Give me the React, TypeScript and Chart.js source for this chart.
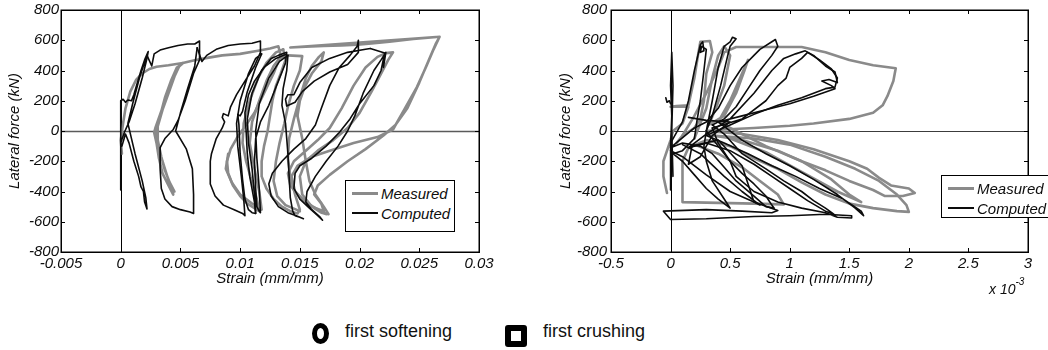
import React, { useEffect, useRef } from 'react';
import { Chart, registerables } from 'chart.js';
Chart.register(...registerables);

type Pt = [number, number];

// ---------------- axis ticks ----------------
const leftXTickValues = [-0.005, 0, 0.005, 0.01, 0.015, 0.02, 0.025, 0.03];
const leftXTickLabels = ['-0.005', '0', '0.005', '0.01', '0.015', '0.02', '0.025', '0.03'];
const rightXTickValues = [-0.5, 0, 0.5, 1, 1.5, 2, 2.5, 3];
const rightXTickLabels = ['-0.5', '0', '0.5', '1', '1.5', '2', '2.5', '3'];
const yTickValues = [-800, -600, -400, -200, 0, 200, 400, 600, 800];
const yTickLabels = ['-800', '-600', '-400', '-200', '0', '200', '400', '600', '800'];

// ---------------- left panel: computed (black) ----------------
const leftComputedA: Pt[] = [
  [0, -390], [0, 200], [0.0002, 210], [0.0004, 190], [0.0006, 205], [0.0009, 200], [0.0011, 240],
  [0.0014, 320], [0.0017, 400], [0.002, 470], [0.0023, 525], [0.0022, 480], [0.0018, 350], [0.0012, 180],
  [0.0007, 60], [0.0003, -10], [0, -80], [0.0001, -100], [0.0004, -20], [0.0007, -80], [0.0011, -200],
  [0.0015, -300], [0.0017, -370], [0.0019, -400], [0.002, -470], [0.0022, -515], [0.0021, -440],
  [0.0018, -330], [0.0012, -150], [0.0006, 50], [0.001, 180], [0.0016, 360], [0.0022, 500],
];
const leftComputedB: Pt[] = [
  [0.0022, 500], [0.0026, 430], [0.0028, 510], [0.0033, 535], [0.004, 550], [0.0048, 565], [0.0056, 575],
  [0.0062, 575], [0.0066, 595], [0.0066, 470], [0.0061, 380], [0.0054, 200], [0.0048, 70], [0.0044, 10],
  [0.0037, -50], [0.0033, -110], [0.0033, -250], [0.0034, -380], [0.0037, -450], [0.0043, -500],
  [0.005, -520], [0.0058, -535], [0.0061, -545], [0.0061, -420], [0.006, -250], [0.0055, -120],
  [0.0046, 0], [0.005, 120], [0.0056, 280], [0.0062, 430], [0.0064, 550],
];
const leftComputedC: Pt[] = [
  [0.0064, 550], [0.0068, 460], [0.0072, 500], [0.008, 540], [0.009, 565], [0.01, 575], [0.011, 580],
  [0.0117, 595], [0.0117, 520], [0.0112, 430], [0.0104, 330], [0.0097, 240], [0.0092, 160], [0.009, 100],
  [0.0086, 115], [0.0085, 90], [0.0087, 60], [0.0085, 20], [0.008, -50], [0.0076, -150], [0.0075, -200],
  [0.0075, -350], [0.0079, -430], [0.0086, -490], [0.0095, -520], [0.0102, -545], [0.0104, -560],
  [0.0103, -450], [0.0101, -300], [0.0098, -100], [0.0097, 50], [0.01, 200], [0.0107, 380],
  [0.0113, 480], [0.0118, 510],
];
const leftComputedD: Pt[] = [
  [0.0118, 510], [0.0113, 420], [0.0106, 260], [0.0102, 130], [0.01, 100], [0.0098, 110], [0.0099, 40],
  [0.01, -150], [0.0102, -320], [0.0104, -450], [0.0107, -520], [0.011, -540], [0.0113, -545],
  [0.0112, -420], [0.011, -250], [0.0107, -80], [0.0106, 80], [0.011, 250], [0.0118, 400], [0.0126, 480],
  [0.0132, 500], [0.0139, 520], [0.0138, 450], [0.0132, 330], [0.0124, 170], [0.0117, 60], [0.0113, -50],
  [0.0112, -200], [0.0113, -380], [0.0114, -500], [0.0116, -530], [0.0117, -540], [0.0116, -380],
  [0.0114, -180], [0.0113, 0], [0.0116, 180], [0.0124, 350], [0.0133, 460], [0.014, 500],
];
const leftComputedE: Pt[] = [
  [0.014, 500], [0.0139, 400], [0.0136, 280], [0.0135, 170], [0.0138, 50], [0.014, -150], [0.0141, -300],
  [0.0142, -440], [0.0144, -530], [0.0146, -560], [0.015, -570], [0.0153, -580], [0.0147, -560],
  [0.014, -540], [0.0132, -500], [0.0126, -430], [0.0124, -350], [0.0127, -280], [0.0135, -200],
  [0.0145, -120], [0.0155, -50], [0.0163, 40], [0.0168, 150], [0.0175, 300], [0.0183, 420], [0.0192, 500],
  [0.0198, 560], [0.0199, 600], [0.0199, 520], [0.019, 440], [0.0175, 390], [0.0162, 330], [0.0152, 260],
  [0.0146, 190], [0.0139, 165], [0.0138, 210], [0.014, 240], [0.0145, 240], [0.015, 320], [0.016, 420],
  [0.0175, 480], [0.019, 520], [0.0205, 540], [0.0209, 545],
];
const leftComputedF: Pt[] = [
  [0.0209, 545], [0.0215, 530], [0.0221, 515], [0.0218, 400], [0.0212, 300], [0.02, 180], [0.0192, 80],
  [0.0183, -10], [0.0172, -100], [0.016, -180], [0.015, -230], [0.0146, -280], [0.0145, -380],
  [0.015, -450], [0.0158, -510], [0.0165, -560], [0.0169, -590], [0.0167, -570], [0.016, -520],
  [0.0155, -470], [0.0156, -400], [0.0163, -300], [0.0172, -200], [0.0182, -100], [0.019, 0],
  [0.0196, 100], [0.0203, 250], [0.0212, 400], [0.0218, 470], [0.0222, 520], [0.022, 420],
];
const leftComputedG: Pt[] = [
  [0.0113, -545], [0.0112, -470], [0.0108, -300], [0.0106, -150], [0.0105, 0], [0.0104, 120],
  [0.0107, 240], [0.0112, 330], [0.012, 420], [0.013, 480], [0.0138, 505],
];

// ---------------- left panel: measured (gray) ----------------
const leftMeasuredA: Pt[] = [
  [0.0001, -150], [0, -60], [0.0002, 50], [0.0004, 150], [0.0008, 260], [0.0013, 340], [0.0018, 380],
  [0.0024, 410], [0.003, 425], [0.004, 435], [0.0048, 445], [0.0052, 450], [0.0048, 420], [0.0043, 330],
  [0.0038, 220], [0.0033, 110], [0.0029, 20], [0.0028, -10], [0.003, -80], [0.0032, -180], [0.0035, -280],
  [0.004, -360], [0.0044, -420], [0.0043, -380], [0.0039, -300], [0.0035, -200], [0.0031, -90], [0.003, 0],
  [0.0033, 100], [0.0037, 220], [0.0042, 330], [0.0047, 420], [0.0051, 440], [0.005, 445], [0.0045, 360],
  [0.004, 250], [0.0035, 140], [0.0031, 30], [0.0031, -60], [0.0034, -170], [0.0037, -260], [0.0041, -340],
  [0.0045, -400],
];
const leftMeasuredB: Pt[] = [
  [0.0052, 450], [0.006, 465], [0.007, 480], [0.0085, 500], [0.01, 510], [0.0115, 530], [0.0125, 545],
  [0.0132, 560], [0.0134, 500], [0.0128, 380], [0.012, 250], [0.0112, 120], [0.0104, 30], [0.0097, -50],
  [0.0092, -120], [0.0089, -200], [0.009, -280], [0.0094, -360], [0.01, -430], [0.0106, -480],
  [0.0112, -510], [0.0116, -530], [0.0114, -450], [0.011, -340], [0.0105, -200], [0.0102, -80],
  [0.0103, 50], [0.0108, 200], [0.0115, 350], [0.0122, 450], [0.013, 520], [0.0136, 540],
];
const leftMeasuredC: Pt[] = [
  [0.0136, 540], [0.0138, 470], [0.0134, 380], [0.013, 300], [0.0127, 200], [0.0125, 100], [0.0123, 0],
  [0.012, -100], [0.0118, -200], [0.0118, -300], [0.0122, -380], [0.0128, -450], [0.0135, -500],
  [0.0142, -530], [0.0148, -545], [0.015, -520], [0.0146, -420], [0.0142, -300], [0.014, -180],
  [0.0141, -50], [0.0145, 80], [0.015, 220], [0.0155, 350], [0.016, 430], [0.0166, 490], [0.017, 520],
  [0.0168, 460], [0.016, 380], [0.0154, 290], [0.015, 200], [0.0148, 100],
];
const leftMeasuredD: Pt[] = [
  [0.0148, 100], [0.0152, -50], [0.0155, -200], [0.0158, -330], [0.0163, -420], [0.017, -500],
  [0.0174, -550], [0.0168, -540], [0.016, -500], [0.015, -440], [0.0142, -360], [0.014, -280],
  [0.0145, -200], [0.0155, -130], [0.0165, -60], [0.0175, 20], [0.0185, 150], [0.0195, 300],
  [0.0205, 420], [0.0215, 490], [0.0222, 515], [0.0228, 520], [0.0224, 470], [0.0218, 380], [0.021, 260],
  [0.02, 120], [0.019, 20], [0.0178, -60], [0.0165, -130], [0.0155, -200], [0.015, -300], [0.0152, -420],
  [0.016, -500], [0.017, -530],
];
const leftMeasuredE: Pt[] = [
  [0.017, -530], [0.0168, -480], [0.0162, -420], [0.0165, -360], [0.0175, -290], [0.019, -200],
  [0.0205, -120], [0.022, -30], [0.023, 40], [0.024, 150], [0.025, 320], [0.0258, 470], [0.0264, 580],
  [0.0267, 623], [0.0245, 608], [0.0225, 590], [0.021, 578], [0.0198, 570], [0.0185, 565], [0.017, 562],
  [0.0155, 558], [0.0142, 552], [0.0267, 623], [0.0262, 540], [0.0256, 430], [0.0248, 290], [0.0238, 150],
  [0.0228, 10], [0.0215, -40], [0.0195, -80], [0.0175, -130], [0.016, -170], [0.0148, -230], [0.0143, -300],
  [0.0146, -400], [0.0155, -470], [0.0165, -520], [0.0172, -550],
];
const leftMeasuredF: Pt[] = [
  [0.009, -150], [0.0088, -250], [0.0093, -340], [0.01, -420], [0.011, -480], [0.0118, -520],
  [0.0116, -400], [0.0112, -250], [0.0108, -80], [0.011, 60], [0.0116, 200], [0.0122, 330], [0.0128, 430],
  [0.0133, 480], [0.014, 500], [0.0152, 495], [0.015, 400], [0.0145, 300], [0.014, 160], [0.0137, 50],
  [0.0133, -80], [0.013, -200], [0.0128, -330], [0.0131, -430], [0.0138, -490], [0.015, -530],
];

// ---------------- right panel (strain x 10^-3): computed (black) ----------------
const rightComputedSpike: Pt[] = [
  [0, -390], [0, -100], [0.01, 100], [0, 300], [0.01, 520], [0.02, 300], [0.01, 0], [0.02, -300],
];
const rightComputedFlag: Pt[] = [[-0.04, 220], [-0.03, 190], [-0.01, 200], [0, 180]];
const rightComputedA: Pt[] = [
  [0, -80], [0.1, 60], [0.15, 200], [0.2, 400], [0.25, 570], [0.27, 590], [0.28, 530], [0.25, 520],
  [0.26, 560], [0.3, 540], [0.28, 400], [0.25, 200], [0.22, 60], [0.2, -50], [0.1, -130], [0.02, -150],
  [0.1, -200], [0.2, -290], [0.3, -380], [0.4, -450], [0.5, -510], [0.45, -450], [0.35, -330], [0.3, -200],
  [0.28, -100], [0.3, 0], [0.35, 200], [0.4, 420], [0.45, 560], [0.5, 590], [0.52, 620], [0.55, 610],
  [0.5, 560], [0.48, 500], [0.42, 300], [0.35, 100], [0.3, 0],
];
const rightComputedB: Pt[] = [
  [0.3, 0], [0.4, -100], [0.5, -200], [0.6, -280], [0.7, -350], [0.8, -430], [0.85, -490], [0.87, -510],
  [0.8, -500], [0.7, -430], [0.55, -330], [0.45, -240], [0.35, -150], [0.25, -100], [0.1, -80], [0, -110],
  [0.2, 20], [0.3, 60], [0.4, 150], [0.5, 300], [0.6, 420], [0.7, 500], [0.75, 540], [0.85, 590],
  [0.88, 605], [0.9, 560], [0.85, 500], [0.75, 400], [0.65, 280], [0.55, 160], [0.45, 80], [0.35, 40],
];
const rightComputedC: Pt[] = [
  [0.35, 40], [0.45, -20], [0.6, -150], [0.8, -250], [0.95, -330], [1.1, -400], [1.2, -460], [1.3, -510],
  [1.37, -550], [1.3, -530], [1.15, -460], [1, -380], [0.85, -300], [0.7, -220], [0.5, -130], [0.3, -80],
  [0.15, -110], [0.3, -20], [0.5, 80], [0.7, 250], [0.85, 400], [0.95, 480], [1.05, 510], [1.13, 530],
  [1.2, 500], [1.3, 430], [1.38, 390], [1.4, 320], [1.33, 340], [1.27, 330], [1.35, 300], [1.38, 280],
  [1.2, 230], [1, 180], [0.8, 140], [0.6, 100], [0.4, 60],
];
const rightComputedD: Pt[] = [
  [0.4, 60], [0.6, -60], [0.8, -150], [1, -230], [1.2, -320], [1.4, -420], [1.55, -510], [1.62, -560],
  [1.6, -530], [1.45, -450], [1.25, -380], [1.05, -300], [0.85, -230], [0.65, -150], [0.45, -80],
  [0.3, -30], [0.5, 40], [0.7, 110], [0.9, 170], [1.1, 220], [1.3, 280], [1.38, 290], [1.4, 350],
  [1.35, 410], [1.25, 470], [1.15, 520], [1.1, 480], [1, 420], [0.97, 350], [0.9, 300], [0.8, 200],
  [0.6, 80], [0.35, 20],
];
const rightComputedE: Pt[] = [
  [0.35, 20], [0.4, -80], [0.5, -200], [0.55, -300], [0.7, -400], [0.9, -470], [1.1, -510], [1.3, -540],
  [1.4, -570], [1.52, -575], [1.52, -560], [1.3, -550], [1, -560], [0.7, -565], [0.3, -580], [0, -585],
  [-0.06, -530], [0.3, -520], [0.6, -530], [0.85, -540], [0.9, -525], [0.7, -470], [0.5, -400],
  [0.3, -290], [0.1, -170], [0, -130],
];
const rightComputedF: Pt[] = [
  [0.15, 90], [0.3, 70], [0.5, 60], [0.35, -30], [0.25, -170], [0.15, -220], [0.18, -100], [0.4, -60],
  [0.6, -230], [0.7, -470], [0.75, -490], [0.6, -400], [0.45, -300], [0.25, -150], [0.1, -90],
];

// ---------------- right panel: measured (gray) ----------------
const rightMeasuredA: Pt[] = [
  [-0.03, -410], [-0.06, -300], [-0.06, -200], [0, -60], [0.02, 0], [0.1, 50], [0.15, 160], [0, 160],
  [0.05, 165], [0.15, 170], [0.2, 350], [0.23, 500], [0.25, 590], [0.33, 595], [0.35, 520], [0.3, 380],
  [0.28, 200], [0.25, 80], [0.2, 20], [0.1, -30], [0.05, -80],
];
const rightMeasuredB: Pt[] = [
  [0.1, -30], [0.2, 100], [0.3, 250], [0.4, 420], [0.45, 520], [0.55, 555], [0.8, 555], [1.1, 555],
  [1.3, 520], [1.5, 470], [1.7, 435], [1.89, 415], [1.87, 330], [1.82, 230], [1.78, 170], [1.7, 120],
  [1.5, 80], [1.2, 50], [1, 35], [0.7, 20], [0.45, 10], [0.3, 0],
];
const rightMeasuredC: Pt[] = [
  [0.3, 0], [0.6, -20], [0.9, -60], [1.2, -120], [1.5, -200], [1.65, -250], [1.75, -310], [1.85, -360],
  [2, -380], [2.05, -410], [1.95, -430], [1.8, -430], [1.7, -390], [1.5, -330], [1.3, -260], [1.1, -200],
  [0.9, -130], [0.6, -60], [0.35, -30],
];
const rightMeasuredD: Pt[] = [
  [0.35, -30], [0.7, -50], [1, -90], [1.3, -170], [1.55, -250], [1.75, -330], [1.9, -420], [1.98, -490],
  [2, -535], [1.9, -530], [1.7, -510], [1.5, -480], [1.3, -420], [1.1, -340], [0.9, -250], [0.7, -180],
  [0.5, -100], [0.3, -60], [0.15, -110], [0.1, -200], [0.1, -470], [0.4, -475], [0.7, -480],
  [0.95, -485], [0.9, -420], [0.75, -330], [0.6, -240], [0.4, -150], [0.2, -90],
];
const rightMeasuredE: Pt[] = [
  [0.2, -50], [0.3, 150], [0.35, 350], [0.4, 500], [0.45, 560], [0.5, 500], [0.45, 300], [0.38, 150],
  [0.32, 40], [0.45, 100], [0.55, 250], [0.62, 400], [0.65, 470], [0.6, 380], [0.5, 200], [0.4, 60],
  [0.5, 20], [0.8, -100], [1.1, -200], [1.35, -320], [1.5, -420], [1.6, -470], [1.4, -400], [1.1, -270],
  [0.8, -140], [0.5, -50],
];

const leftComputed = [leftComputedA, leftComputedB, leftComputedC, leftComputedD, leftComputedE, leftComputedF, leftComputedG];
const leftMeasured = [leftMeasuredA, leftMeasuredB, leftMeasuredC, leftMeasuredD, leftMeasuredE, leftMeasuredF];
const rightComputed = [rightComputedSpike, rightComputedFlag, rightComputedA, rightComputedB, rightComputedC, rightComputedD, rightComputedE, rightComputedF];
const rightMeasured = [rightMeasuredA, rightMeasuredB, rightMeasuredC, rightMeasuredD, rightMeasuredE];

const GRAY = 'rgb(138,138,138)';
const BLACK = 'rgb(12,12,12)';
const FONT = '"Liberation Sans", Arial, Helvetica, sans-serif';
const TEXT = '#0d0d0d';

function makeDatasets(loops: Pt[][], label: string, color: string, width: number, order: number) {
  return loops.map((loop, i) => ({
    label: i === 0 ? label : label + ' ' + i,
    data: loop.map(([x, y]) => ({ x, y })),
    showLine: true,
    borderColor: color,
    backgroundColor: color,
    borderWidth: width,
    pointRadius: 0,
    pointHoverRadius: 0,
    tension: 0,
    fill: false,
    order,
    borderJoinStyle: 'round',
    borderCapStyle: 'round',
  }));
}

const framePlugin = {
  id: 'frame',
  beforeDatasetsDraw(chart: any, _args: any, opts: any) {
    const { ctx, chartArea } = chart;
    const { left, right, top, bottom } = chartArea;
    const xs = chart.scales.x;
    const ys = chart.scales.y;
    ctx.save();
    const y0 = Math.round(ys.getPixelForValue(0)) + 0.5;
    ctx.strokeStyle = opts.zeroHColor;
    ctx.lineWidth = opts.zeroHWidth;
    ctx.beginPath();
    ctx.moveTo(left, y0);
    ctx.lineTo(right, y0);
    ctx.stroke();
    const x0 = Math.round(xs.getPixelForValue(0)) + 0.5;
    ctx.strokeStyle = '#000';
    ctx.lineWidth = 1;
    ctx.beginPath();
    ctx.moveTo(x0, top);
    ctx.lineTo(x0, bottom);
    ctx.stroke();
    ctx.restore();
  },
  afterDatasetsDraw(chart: any) {
    const { ctx, chartArea } = chart;
    const { left, right, top, bottom } = chartArea;
    const xs = chart.scales.x;
    const ys = chart.scales.y;
    const tl = 4;
    ctx.save();
    ctx.strokeStyle = '#000';
    ctx.lineWidth = 1;
    ctx.beginPath();
    xs.ticks.forEach((t: any) => {
      const px = Math.round(xs.getPixelForValue(t.value)) + 0.5;
      ctx.moveTo(px, bottom);
      ctx.lineTo(px, bottom - tl);
      ctx.moveTo(px, top);
      ctx.lineTo(px, top + tl);
    });
    ys.ticks.forEach((t: any) => {
      const py = Math.round(ys.getPixelForValue(t.value)) + 0.5;
      ctx.moveTo(left, py);
      ctx.lineTo(left + tl, py);
      ctx.moveTo(right, py);
      ctx.lineTo(right - tl, py);
    });
    ctx.stroke();
    ctx.lineWidth = 1.5;
    ctx.strokeRect(Math.round(left) + 0.25, Math.round(top) + 0.25, Math.round(right - left), Math.round(bottom - top));
    ctx.restore();
  },
};

interface PanelCfg {
  computed: Pt[][];
  measured: Pt[][];
  xMin: number;
  xMax: number;
  xTickValues: number[];
  xTickLabels: string[];
  yAxisWidth: number;
  padRight: number;
  yTickPadding: number;
  yTitlePad: number;
  zeroHColor: string;
  zeroHWidth: number;
}

function buildConfig(cfg: PanelCfg): any {
  const tickFont = { family: FONT, size: 15, style: 'italic' as const, lineHeight: 1.2 };
  return {
    type: 'scatter',
    data: {
      datasets: [
        ...makeDatasets(cfg.computed, 'Computed', BLACK, 1.6, 0),
        ...makeDatasets(cfg.measured, 'Measured', GRAY, 2.6, 1),
      ],
    },
    plugins: [framePlugin],
    options: {
      responsive: false,
      animation: false,
      events: [],
      layout: { padding: { left: 0, right: cfg.padRight, top: 10, bottom: 0 } },
      plugins: {
        legend: { display: false },
        tooltip: { enabled: false },
        frame: { zeroHColor: cfg.zeroHColor, zeroHWidth: cfg.zeroHWidth },
      },
      scales: {
        x: {
          type: 'linear',
          min: cfg.xMin,
          max: cfg.xMax,
          afterBuildTicks: (s: any) => {
            s.ticks = cfg.xTickValues.map((v) => ({ value: v }));
          },
          ticks: {
            callback: (_v: any, i: number) => cfg.xTickLabels[i],
            maxRotation: 0,
            autoSkip: false,
            padding: 3,
            color: TEXT,
            font: tickFont,
          },
          grid: { display: false, drawTicks: false },
          border: { display: false },
          title: {
            display: true,
            text: 'Strain (mm/mm)',
            color: TEXT,
            font: tickFont,
            padding: { top: 0, bottom: 2 },
          },
          afterFit: (s: any) => {
            s.height = 38;
            s.paddingLeft = 0;
            s.paddingRight = 0;
          },
        },
        y: {
          type: 'linear',
          min: -800,
          max: 800,
          afterBuildTicks: (s: any) => {
            s.ticks = yTickValues.map((v) => ({ value: v }));
          },
          ticks: {
            callback: (_v: any, i: number) => yTickLabels[i],
            autoSkip: false,
            padding: cfg.yTickPadding,
            color: TEXT,
            font: tickFont,
          },
          grid: { display: false, drawTicks: false },
          border: { display: false },
          title: {
            display: true,
            text: 'Lateral force (kN)',
            color: TEXT,
            font: tickFont,
            padding: { top: cfg.yTitlePad, bottom: 0 },
          },
          afterFit: (s: any) => {
            s.width = cfg.yAxisWidth;
            s.paddingTop = 0;
            s.paddingBottom = 0;
          },
        },
      },
    },
  };
}

function Panel(props: { cfg: PanelCfg; left: number; width: number }) {
  const ref = useRef<HTMLCanvasElement | null>(null);
  useEffect(() => {
    if (!ref.current) return;
    const chart = new Chart(ref.current, buildConfig(props.cfg));
    return () => chart.destroy();
  }, []);
  return (
    <canvas
      ref={ref}
      width={props.width}
      height={290}
      style={{ position: 'absolute', left: props.left, top: 0, width: props.width, height: 290 }}
    />
  );
}

function InLegend(props: { left: number; top: number; width: number; height: number; rowGap: number }) {
  const row = (color: string, lw: number, text: string, top: number) => (
    <div style={{ position: 'absolute', left: 0, top, height: 20, display: 'flex', alignItems: 'center' }}>
      <div style={{ marginLeft: 6, width: 26, height: lw, background: color }} />
      <span style={{ marginLeft: 3, fontFamily: FONT, fontStyle: 'italic', fontSize: 15, color: TEXT, whiteSpace: 'nowrap' }}>{text}</span>
    </div>
  );
  return (
    <div
      style={{
        position: 'absolute',
        left: props.left,
        top: props.top,
        width: props.width,
        height: props.height,
        border: '1px solid #000',
        background: '#fff',
        boxSizing: 'border-box',
      }}
    >
      {row(GRAY, 3, 'Measured', 2)}
      {row(BLACK, 2, 'Computed', 2 + props.rowGap)}
    </div>
  );
}

const leftCfg: PanelCfg = {
  computed: leftComputed,
  measured: leftMeasured,
  xMin: -0.005,
  xMax: 0.03,
  xTickValues: leftXTickValues,
  xTickLabels: leftXTickLabels,
  yAxisWidth: 61,
  padRight: 41,
  yTickPadding: 2,
  yTitlePad: 6,
  zeroHColor: 'rgb(90,90,90)',
  zeroHWidth: 1.5,
};

const rightCfg: PanelCfg = {
  computed: rightComputed,
  measured: rightMeasured,
  xMin: -0.5,
  xMax: 3,
  xTickValues: rightXTickValues,
  xTickLabels: rightXTickLabels,
  yAxisWidth: 91,
  padRight: 20,
  yTickPadding: 4,
  yTitlePad: 37,
  zeroHColor: 'rgb(60,60,60)',
  zeroHWidth: 1,
};

export default function App() {
  return (
    <div
      style={{
        position: 'fixed',
        left: 0,
        top: 0,
        width: 1048,
        height: 350,
        overflow: 'hidden',
        background: '#fff',
      }}
    >
      <Panel cfg={leftCfg} left={0} width={520} />
      <Panel cfg={rightCfg} left={520} width={528} />
      <InLegend left={345} top={180} width={110} height={52} rowGap={20} />
      <InLegend left={941} top={175} width={112} height={43} rowGap={20} />
      <div style={{ position: 'absolute', left: 989, top: 279, fontFamily: FONT, fontStyle: 'italic', fontSize: 14, color: TEXT, whiteSpace: 'nowrap' }}>
        x 10<sup style={{ fontSize: 10, position: 'relative', top: -3 }}>-3</sup>
      </div>
      <div style={{ position: 'absolute', left: 0, top: 318, width: 1048, height: 30 }}>
        <div style={{ position: 'absolute', left: 312, top: 5, width: 17, height: 21, border: '5px solid #000', borderRadius: '50%', boxSizing: 'border-box' }} />
        <div style={{ position: 'absolute', left: 345, top: 3, fontFamily: FONT, fontSize: 18, color: '#111', whiteSpace: 'nowrap' }}>first softening</div>
        <div style={{ position: 'absolute', left: 505, top: 7, width: 22, height: 22, border: '6px solid #000', borderRadius: 3, boxSizing: 'border-box' }} />
        <div style={{ position: 'absolute', left: 543, top: 3, fontFamily: FONT, fontSize: 18, color: '#111', whiteSpace: 'nowrap' }}>first crushing</div>
      </div>
    </div>
  );
}
